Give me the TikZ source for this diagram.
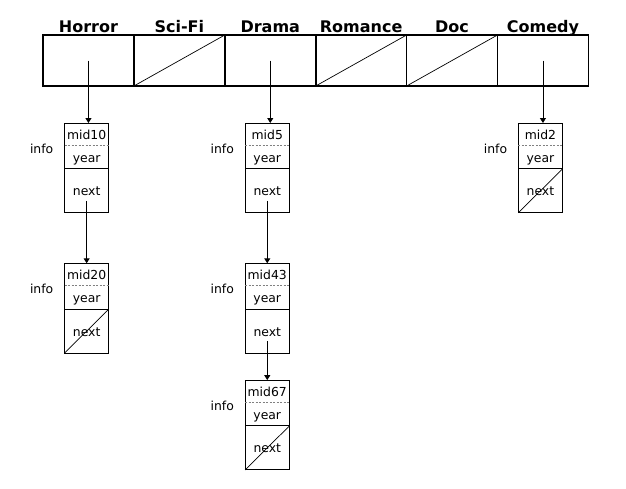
\documentclass[tikz,border=0pt]{standalone}
\usepackage{fontspec}
\setmainfont{DejaVu Sans}
\usetikzlibrary{positioning,arrows.meta}
\tikzset{
bucket/.style={
	draw, line width=1.6pt, minimum width=90.9pt, minimum height=51pt,
	inner sep=0pt, outer sep=0pt, anchor=north west},
genre/.style={font=\fontsize{16pt}{18pt}\selectfont\bfseries, anchor=base, inner sep=0pt},
field/.style={
	minimum width=44.3pt, inner sep=0pt, outer sep=0pt,
	text height=10pt, text depth=0pt, font=\fontsize{12.4pt}{14pt}\selectfont},
midcell/.style={field, minimum height=22.4pt},
yearcell/.style={field, minimum height=23.4pt},
nextcell/.style={field, minimum height=44pt},
infolabel/.style={inner sep=0pt, text height=10pt, text depth=0pt,
	font=\fontsize{12.4pt}{14pt}\selectfont},
ptr/.style={-{Triangle[length=5pt,width=6pt]}, line width=0.9pt},
nil/.style={line width=0.7pt}
}
\newcommand{\movierec}[3]{%
	\node[midcell, #2] (#1m) {#3};
	\node[yearcell, below=0pt of #1m] (#1y) {year};
	\node[nextcell, below=0pt of #1y] (#1n) {next};
	\draw[line width=0.9pt] (#1m.north west) rectangle (#1n.south east);
	\draw[line width=0.6pt, gray, dash pattern=on 2pt off 1.5pt] (#1m.south west) -- (#1m.south east);
	\draw[line width=0.9pt] (#1y.south west) -- (#1y.south east);
	\node[infolabel, left=11pt of #1m.south west, yshift=-2.6pt] (#1i) {info};
}

\begin{document}
\begin{tikzpicture}[x=1pt, y=-1pt]
	\useasboundingbox (0,0) rectangle (626,488);

	% hash table buckets
	\foreach \g [count=\i] in {Horror,Sci-Fi,Drama,Romance,Doc,Comedy}{
		\node[bucket] (c\i) at ({43+(\i-1)*90.9},35) {};
		\node[genre] (t\i) at ([yshift=2.5pt]c\i.north) {\g};
	}
	\foreach \i in {2,4,5}
		\draw[nil] (c\i.south west) -- (c\i.north east);

	% Horror
	\movierec{h1}{below=37pt of c1, xshift=-1.8pt}{mid10}
	\movierec{h2}{below=50.5pt of h1n}{mid20}
	\draw[nil] (h2n.south west) -- (h2n.north east);

	% Drama
	\movierec{d1}{below=37pt of c3, xshift=-3pt}{mid5}
	\movierec{d2}{below=50.5pt of d1n}{mid43}
	\movierec{d3}{below=27pt of d2n}{mid67}
	\draw[nil] (d3n.south west) -- (d3n.north east);

	% Comedy
	\movierec{k1}{below=37pt of c6, xshift=-2.5pt}{mid2}
	\draw[nil] (k1n.south west) -- (k1n.north east);

	% pointers
	\draw[ptr] (c1.center) -- (c1.center |- h1m.north);
	\draw[ptr] (c3.center) -- (c3.center |- d1m.north);
	\draw[ptr] (c6.center) -- (c6.center |- k1m.north);
	\draw[ptr] ([yshift=-10pt]h1n.center) -- (h2m.north);
	\draw[ptr] ([yshift=-10pt]d1n.center) -- (d2m.north);
	\draw[ptr] ([yshift=-10pt]d2n.center) -- (d3m.north);

\end{tikzpicture}
\end{document}
